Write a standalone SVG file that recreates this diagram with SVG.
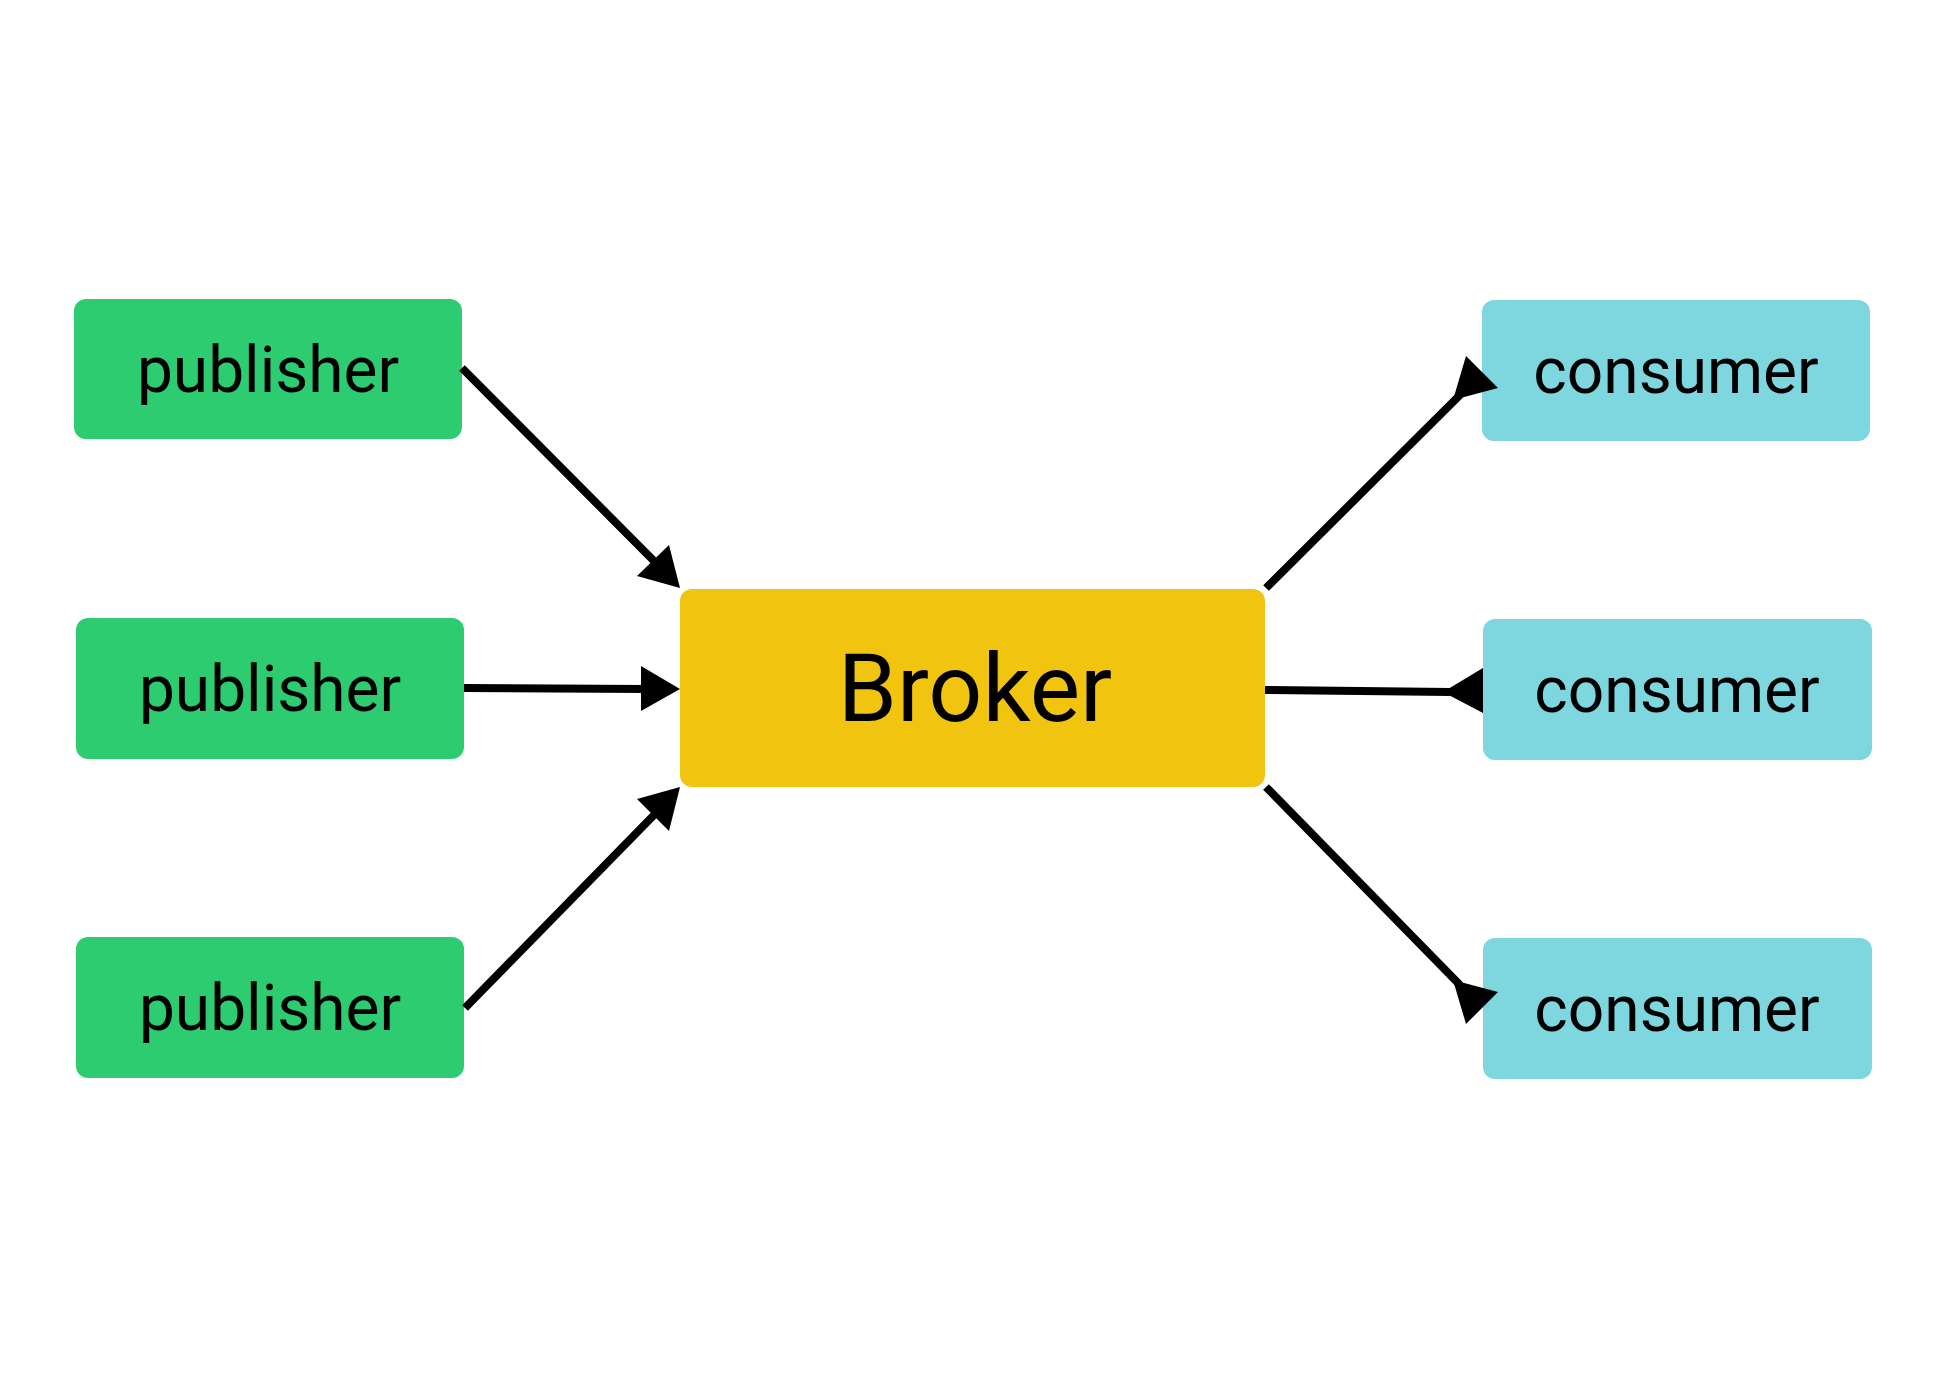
<svg xmlns="http://www.w3.org/2000/svg" width="1946" height="1377" viewBox="0 0 1946 1377">
<style>
.pub{fill:#2ECC71}
.con{fill:#7ED7DF}
.brk{fill:#F1C40F}
.lbl{font-family:Roboto,"Liberation Sans",sans-serif;font-size:64px;fill:#000;text-anchor:middle}
.big{font-size:95px}
.edge{stroke:#000;stroke-width:8;fill:none}
.head{fill:#000;stroke:none}
</style>
<rect width="1946" height="1377" fill="#fff"/>
<g id="publisher1"><rect class="pub" x="74" y="299" width="388" height="140" rx="12"/><text class="lbl" x="268" y="392">publisher</text></g>
<g id="publisher2"><rect class="pub" x="76" y="618" width="388" height="141" rx="12"/><text class="lbl" x="270" y="711">publisher</text></g>
<g id="publisher3"><rect class="pub" x="76" y="937" width="388" height="141" rx="12"/><text class="lbl" x="270" y="1030">publisher</text></g>
<g id="broker"><rect class="brk" x="680" y="589" width="585" height="198" rx="12"/><text class="lbl big" x="975" y="721">Broker</text></g>
<g id="consumer1"><rect class="con" x="1482" y="300" width="388" height="141" rx="12"/><text class="lbl" x="1676" y="393">consumer</text></g>
<g id="consumer2"><rect class="con" x="1483" y="619" width="389" height="141" rx="12"/><text class="lbl" x="1677" y="712">consumer</text></g>
<g id="consumer3"><rect class="con" x="1483" y="938" width="389" height="141" rx="12"/><text class="lbl" x="1677" y="1031">consumer</text></g>
<g id="connectors">
<line class="edge" x1="462" y1="368" x2="655" y2="562"/>
<polygon class="head" points="680,588 637,576 669,545"/>
<line class="edge" x1="464" y1="688" x2="645" y2="689"/>
<polygon class="head" points="680,689 641,666 641,711"/>
<line class="edge" x1="465" y1="1008" x2="655" y2="814"/>
<polygon class="head" points="680,787 637,799 669,831"/>
<line class="edge" x1="1266" y1="588" x2="1460" y2="395"/>
<polygon class="head" points="1498,388 1466,356 1453,400"/>
<line class="edge" x1="1265" y1="690" x2="1450" y2="692"/>
<polygon class="head" points="1443,692 1483,668 1483,713"/>
<line class="edge" x1="1266" y1="787" x2="1460" y2="985"/>
<polygon class="head" points="1498,992 1466,1024 1453,980"/>
</g>
</svg>
